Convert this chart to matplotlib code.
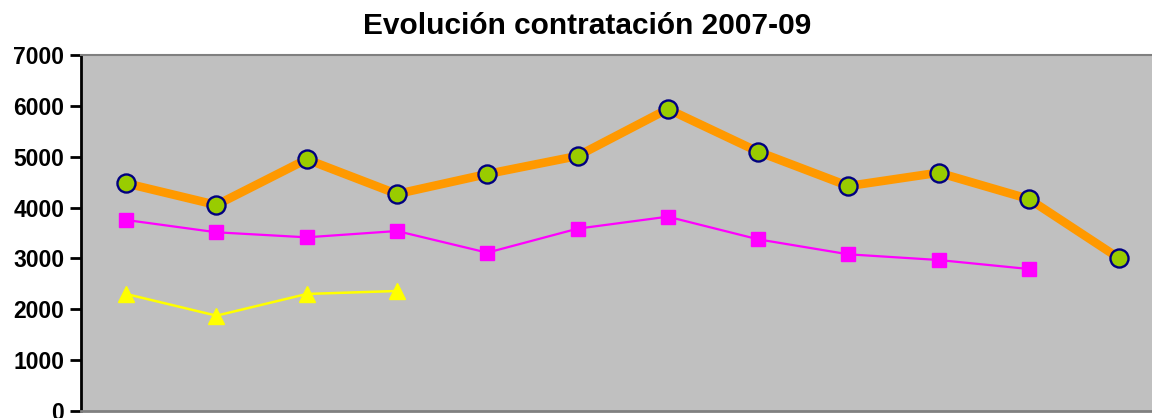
import matplotlib
matplotlib.use("Agg")
import matplotlib.pyplot as plt

plt.rcParams['font.family'] = ['Liberation Sans', 'DejaVu Sans']

months = ["Ene", "Feb", "Mar", "Abr", "May", "Jun", "Jul", "Ago", "Sep", "Oct", "Nov", "Dic"]
serie_2007 = [4477, 4051, 4949, 4267, 4660, 5014, 5938, 5099, 4424, 4686, 4169, 3003]
serie_2008 = [3756, 3514, 3415, 3539, 3113, 3585, 3821, 3376, 3081, 2969, 2792]
serie_2009 = [2301, 1874, 2301, 2360]
yticks = [0, 1000, 2000, 3000, 4000, 5000, 6000, 7000]
title = "Evolución contratación 2007-09"

fig = plt.figure(figsize=(11.52, 4.18), dpi=100)
ax = fig.add_axes([81 / 1152, 7 / 418, 1083.3 / 1152, 356 / 418])
ax.set_facecolor("#C0C0C0")

x = list(range(len(months)))
ax.plot(x[:len(serie_2007)], serie_2007, color="#FF9900", lw=6.2, marker="o",
        markersize=13, markerfacecolor="#99CC00", markeredgecolor="#000080",
        markeredgewidth=1.7, label="2007", zorder=3)
ax.plot(x[:len(serie_2008)], serie_2008, color="#FF00FF", lw=1.6, marker="s",
        markersize=10, markerfacecolor="#FF00FF", markeredgecolor="#FF00FF",
        label="2008", zorder=3)
ax.plot(x[:len(serie_2009)], serie_2009, color="#FFFF00", lw=1.8, marker="^",
        markersize=11, markerfacecolor="#FFFF00", markeredgecolor="#FFFF00",
        label="2009", zorder=3)

ax.set_xlim(-0.5, len(months) - 0.5)
ax.set_ylim(0, 7000)
ax.set_yticks(yticks)
ax.set_yticklabels([str(v) for v in yticks], fontsize=16.5, fontweight="bold")
ax.set_xticks([])
ax.tick_params(axis="y", direction="out", length=8, width=2, pad=4)

ax.spines["left"].set_color("black")
ax.spines["left"].set_linewidth(2)
ax.spines["bottom"].set_color("#808080")
ax.spines["bottom"].set_linewidth(2)
ax.spines["top"].set_color("#808080")
ax.spines["top"].set_linewidth(1.5)
ax.spines["right"].set_visible(False)

fig.text(587 / 1152, 1 - 34 / 418, title, ha="center", va="baseline",
         fontsize=21.5, fontweight="bold")

fig.savefig("out.png", dpi=100)
